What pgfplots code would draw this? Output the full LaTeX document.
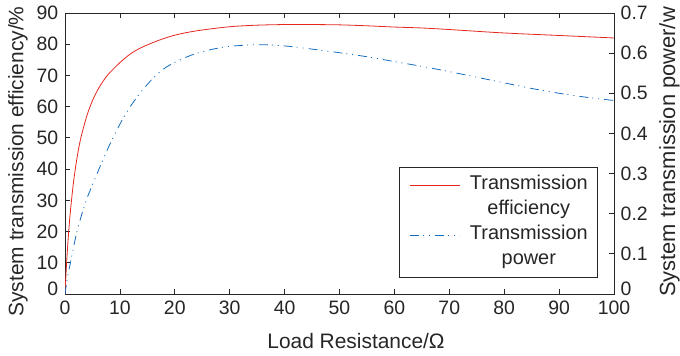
\documentclass[border=0pt]{standalone}
\usepackage{pgfplots}
\pgfplotsset{compat=1.18}
\usetikzlibrary{calc}
\usepackage{fontspec}
\setmainfont{Liberation Sans}
\definecolor{effred}{RGB}{228,38,30}
\definecolor{powblue}{RGB}{20,108,190}
\definecolor{axgray}{RGB}{38,38,38}
\newcommand{\tickfont}{\fontsize{19.5}{22}\selectfont}
\newcommand{\labfont}{\fontsize{21}{24}\selectfont}
\begin{document}
\begin{tikzpicture}
\begin{axis}[
  name=ax,
  scale only axis, width=549bp, height=281bp,
  xmin=0, xmax=100, ymin=0, ymax=90,
  xtick={0,10,...,100}, ytick={10,20,...,90},
  extra y ticks={0}, extra y tick style={yticklabel style={yshift=5bp}},
  xtick pos=both, ytick pos=left,
  tick align=inside, major tick length=5bp,
  axis line style={axgray, line width=0.8pt},
  every tick/.style={axgray, line width=0.8pt},
  tick label style={font=\tickfont, text=axgray, inner sep=1bp},
  xticklabel style={yshift=-5.5bp},
  yticklabel style={xshift=-5.5bp},
  label style={font=\labfont, text=axgray},
  /pgf/number format/assume math mode=true,
  xlabel={Load Resistance/Ω},
  ylabel={System transmission efficiency/\%},
  xlabel style={at={(axis description cs:0.5301,-0.193)}, anchor=base},
  ylabel style={at={(axis description cs:-0.076,0.4715)}, anchor=base, rotate=0},
]
\addplot[effred, line width=0.8pt, smooth] coordinates {
(0,0) (0.25,8.6) (0.5,15.7) (0.75,21.7) (1,26.8) (1.5,35.1) (2,41.5) (2.5,46.7)
(3,50.8) (4,57.2) (5,61.9) (6,65.5) (7,68.3) (8,70.6) (10,74.1) (12,77)
(14,79) (17,81.2) (20,82.9) (24,84.3) (30,85.6) (35,86.1) (40,86.3) (45,86.3)
(50,86.2) (55,85.9) (60,85.5) (65,85.2) (70,84.7) (80,83.6) (90,82.8) (100,82)
};
\end{axis}
\begin{axis}[
  scale only axis, width=549bp, height=281bp,
  xmin=0, xmax=100, ymin=0, ymax=0.7,
  axis x line=none, axis y line*=right,
  ytick={0.1,0.2,0.3,0.4,0.5,0.6,0.7}, ytick pos=right,
  extra y ticks={0}, extra y tick style={yticklabel style={yshift=5bp}},
  yticklabel style={/pgf/number format/fixed, /pgf/number format/precision=1, xshift=5.5bp},
  tick align=inside, major tick length=5bp,
  axis line style={axgray, line width=0.8pt},
  every tick/.style={axgray, line width=0.8pt},
  tick label style={font=\tickfont, text=axgray, inner sep=1bp},
  label style={font=\fontsize{22}{25}\selectfont, text=axgray},
  /pgf/number format/assume math mode=true,
  ylabel={System transmission power/w},
  ylabel style={at={(axis description cs:1.1111,0.5053)}, anchor=base, rotate=0},
  legend image code/.code={\draw[#1] (0bp,0bp) -- (50bp,0bp);},
  legend cell align=center,
  legend style={at={(axis description cs:0.971,0.057)}, anchor=south east,
    font=\fontsize{20}{24}\selectfont, text=axgray, draw=axgray, line width=0.8pt,
    nodes={inner ysep=0pt, inner xsep=0pt, text height=15bp, text depth=6bp},
    row sep=4bp, inner xsep=10bp, inner ysep=7bp,
    /tikz/every odd column/.append style={column sep=10bp}},
]
\addlegendimage{effred, line width=0.8pt}
\addlegendentry{Transmission}
\addlegendimage{empty legend}
\addlegendentry{efficiency}
\addplot[powblue, line width=0.8pt, smooth, dash pattern=on 9bp off 4bp on 1bp off 5bp on 1bp off 5bp] coordinates {
(0,0) (0.5,0.045) (1,0.078) (2,0.145) (3,0.196) (4,0.238) (5,0.272) (6,0.305)
(7,0.337) (8,0.368) (10,0.423) (12,0.469) (14,0.506) (16,0.537) (18,0.561)
(20,0.577) (23,0.595) (26,0.607) (29.4,0.616) (33,0.62) (36,0.621) (40,0.618)
(45,0.61) (50,0.601) (55,0.591) (60,0.579) (65,0.567) (70,0.554) (75,0.54)
(80,0.526) (85,0.512) (90,0.5) (95,0.49) (100,0.482)
};
\addlegendentry{Transmission}
\addlegendimage{empty legend}
\addlegendentry{power}
\end{axis}
\pgfresetboundingbox
\path[use as bounding box] ($(ax.south west)+(-65bp,-62bp)$) rectangle ($(ax.north east)+(66bp,13bp)$);
\end{tikzpicture}
\end{document}
